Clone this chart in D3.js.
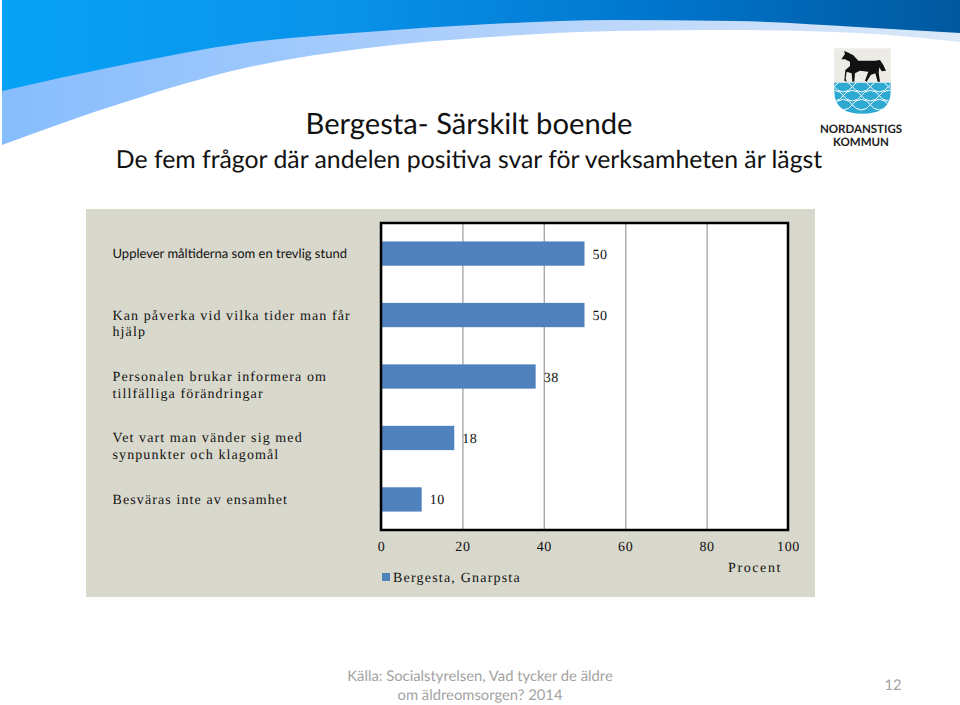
<!DOCTYPE html>
<html lang="sv"><head><meta charset="utf-8">
<script src="https://cdn.jsdelivr.net/npm/d3@7"></script>
<style>html,body{margin:0;padding:0;background:#fff}svg{display:block;text-rendering:geometricPrecision}</style>
</head><body><div id="c"></div>
<script>
// DATA
const categories = ["Upplever måltiderna som en trevlig stund","Kan påverka vid vilka tider man får hjälp","Personalen brukar informera om tillfälliga förändringar","Vet vart man vänder sig med synpunkter och klagomål","Besväras inte av ensamhet"];
const categoryLines = [["Upplever måltiderna som en trevlig stund"],["Kan påverka vid vilka tider man får","hjälp"],["Personalen brukar informera om","tillfälliga förändringar"],["Vet vart man vänder sig med","synpunkter och klagomål"],["Besväras inte av ensamhet"]];
const values = [50,50,38,18,10];
const xTicks = [0,20,40,60,80,100];
const seriesName = "Bergesta, Gnarpsta";
const axisName = "Procent";
const title = "Bergesta- Särskilt boende";
const subtitle = "De fem frågor där andelen positiva svar för verksamheten är lägst";
const sourceLines = ["Källa: Socialstyrelsen, Vad tycker de äldre","om äldreomsorgen? 2014"];
const pageNumber = "12";

const W=960,H=705;
const svg=d3.select("#c").append("svg").attr("width",W).attr("height",H).attr("viewBox",`0 0 ${W} ${H}`);
const defs=svg.append("defs");
const grad=(id,stops)=>{const g=defs.append("linearGradient").attr("id",id);stops.forEach(([o,c])=>g.append("stop").attr("offset",o).attr("stop-color",c));};
grad("dark",[[0,"#07a2f7"],[.35,"#0a93ea"],[.7,"#0074cb"],[1,"#01589e"]]);
grad("light",[[0,"#87bdfd"],[.5,"#afd0fb"],[1,"#dbe9f8"]]);

// Header decoration
const curve=d3.line().curve(d3.curveMonotoneX);
const darkEdge=[[2,91],[122,65],[245,43],[367,32],[490,24],[612,20],[735,21],[857,27],[960,33]];
const lightEdge=[[2,145],[122,103],[245,68],[367,48],[490,37],[612,31],[735,30],[857,33],[960,42]];
svg.append("path").attr("d",curve(lightEdge)+"L960,0L2,0Z").attr("fill","url(#light)");
svg.append("path").attr("d",curve(darkEdge)+"L960,0L2,0Z").attr("fill","url(#dark)");

const sans="Lato, 'Open Sans', sans-serif", serif="'Liberation Serif', serif";
svg.append("text").attr("x",469).attr("y",134).attr("text-anchor","middle").attr("font-family",sans).attr("font-size",29.2).attr("fill","#111").text(title);
svg.append("text").attr("x",469).attr("y",168).attr("text-anchor","middle").attr("font-family",sans).attr("font-size",24.8).attr("fill","#111").text(subtitle);

// Logo
const logo=svg.append("g").attr("transform","translate(800,30) scale(0.3333)");
logo.append("rect").attr("x",103).attr("y",55).attr("width",169).attr("height",103).attr("fill","#ecebe6");
defs.append("clipPath").attr("id","shield").append("path").attr("d","M103,158H272V185Q272,251 187,251Q103,251 103,185Z");
logo.append("path").attr("d","M103,158H272V185Q272,251 187,251Q103,251 103,185Z").attr("fill","#2ea9d2");
const scales=logo.append("g").attr("clip-path","url(#shield)").attr("fill","none").attr("stroke","#fff").attr("stroke-width",3);
[[170,103],[197,130],[224,103]].forEach(([y,x0])=>{for(let x=x0-54;x<300;x+=54){scales.append("path").attr("d",`M${x},${y}Q${x+8},${y+14} ${x+27},${y+16}Q${x+46},${y+14} ${x+54},${y}Q${x+46},${y-14} ${x+27},${y-16}Q${x+8},${y-14} ${x},${y}Z`);}});
logo.append("path").attr("fill","#111").attr("d","M124,88L135,72L132,63L142,67L160,76L175,92L225,92L240,90L250,105L258,122L245,124L238,112L236,128L240,155L233,155L226,130L212,135L200,155L195,152L205,125L180,122L165,130L163,155L157,155L155,130L140,125L137,145L140,155L133,152L136,120L150,108L150,95L135,88Z");
svg.append("text").attr("x",861).attr("y",133).attr("text-anchor","middle").attr("font-family",sans).attr("font-weight",700).attr("font-size",11.5).attr("fill","#222").text("NORDANSTIGS");
svg.append("text").attr("x",861).attr("y",146).attr("text-anchor","middle").attr("font-family",sans).attr("font-weight",700).attr("font-size",11.5).attr("fill","#222").text("KOMMUN");

// Panel
svg.append("rect").attr("x",86).attr("y",209).attr("width",729).attr("height",388).attr("fill","#d9d8cc");
const plot={l:381,r:788,t:223,b:530};
svg.append("rect").attr("x",plot.l).attr("y",plot.t).attr("width",plot.r-plot.l).attr("height",plot.b-plot.t).attr("fill","#fff");

const x=d3.scaleLinear().domain([0,100]).range([plot.l,plot.r]);
const y=d3.scaleBand().domain(categories).range([plot.t,plot.b]).paddingInner(0.605).paddingOuter(0.3);

// grid + x axis
const ax=svg.append("g").attr("transform",`translate(0,${plot.b})`)
  .call(d3.axisBottom(x).tickValues(xTicks).tickSize(-(plot.b-plot.t)).tickPadding(11).tickFormat(d3.format("d")));
ax.select(".domain").remove();
ax.selectAll("line").attr("stroke","#a8a8a8").attr("stroke-width",1.4);
ax.selectAll("text").attr("font-family",serif).attr("font-size",14).attr("letter-spacing",0.6).attr("fill","#111");

// bars
svg.append("g").selectAll("rect").data(values).join("rect")
  .attr("x",x(0)).attr("y",(d,i)=>y(categories[i])).attr("width",d=>x(d)-x(0)).attr("height",y.bandwidth()).attr("fill","#4f81bd");
// frame
svg.append("rect").attr("x",plot.l).attr("y",plot.t).attr("width",plot.r-plot.l).attr("height",plot.b-plot.t).attr("fill","none").attr("stroke","#000").attr("stroke-width",2.5);

// value labels
svg.append("g").selectAll("text").data(values).join("text")
  .attr("x",d=>x(d)+8).attr("y",(d,i)=>y(categories[i])+y.bandwidth()/2+5)
  .attr("font-family",serif).attr("font-size",14).attr("letter-spacing",0.6).attr("fill","#111").text(d=>d);

// category labels
categoryLines.forEach((lines,i)=>{
  const c=y(categories[i])+y.bandwidth()/2;
  lines.forEach((t,j)=>{
    const n=svg.append("text").attr("x",112.5).attr("y",c+4.5+j*16.5).attr("fill","#111").text(t);
    if(i===0) n.attr("font-family",sans).attr("font-size",13);
    else n.attr("font-family",serif).attr("font-size",14).attr("letter-spacing",1.1);
  });
});

// legend + axis name
svg.append("rect").attr("x",382).attr("y",573).attr("width",8).attr("height",8).attr("fill","#4f81bd");
svg.append("text").attr("x",393).attr("y",582).attr("font-family",serif).attr("font-size",14).attr("letter-spacing",1.2).attr("fill","#111").text(seriesName);
svg.append("text").attr("x",728).attr("y",572).attr("font-family",serif).attr("font-size",14).attr("letter-spacing",1.6).attr("fill","#111").text(axisName);

// footer
sourceLines.forEach((t,i)=>svg.append("text").attr("x",480).attr("y",681+i*19).attr("text-anchor","middle").attr("font-family",sans).attr("font-size",14.8).attr("fill","#a3a3a3").text(t));
svg.append("text").attr("x",893).attr("y",690).attr("text-anchor","middle").attr("font-family",sans).attr("font-size",14.8).attr("fill","#a3a3a3").text(pageNumber);
</script></body></html>
